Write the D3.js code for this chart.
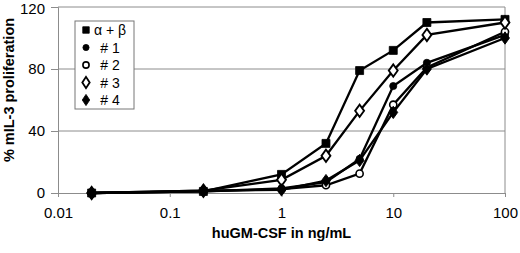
<!DOCTYPE html>
<html>
<head>
<meta charset="utf-8">
<script src="https://cdn.jsdelivr.net/npm/d3@7"></script>
<style>
  body { margin: 0; background: #fff; }
  svg { display: block; }
</style>
</head>
<body>
<svg id="chart" width="520" height="253"></svg>
<script>
// concentrations (ng/mL) and % proliferation
var doses = [0.02, 0.2, 1, 2.5, 5, 10, 20, 100];
var alphaBeta = [0, 1, 12, 32, 79, 92, 110, 112];
var clone1 = [0, 1, 3, 7, 22, 69, 84, 102];
var clone2 = [0, 1, 2.5, 5, 12.5, 57, 81, 104];
var clone3 = [0, 1.5, 8.5, 24, 53, 79, 102, 110];
var clone4 = [0, 1.5, 2, 8, 21, 52, 80, 100];
var xTicks = [0.01, 0.1, 1, 10, 100];
var yTicks = [0, 40, 80, 120];

var series = [
  {name: 'α + β', values: alphaBeta, shape: 'square', fill: '#000'},
  {name: '# 1', values: clone1, shape: 'circle', fill: '#000'},
  {name: '# 2', values: clone2, shape: 'circle', fill: '#fff'},
  {name: '# 3', values: clone3, shape: 'diamond', fill: '#fff'},
  {name: '# 4', values: clone4, shape: 'diamond', fill: '#000'}
];

var margin = {top: 7, right: 15, bottom: 60, left: 58}
  , width = 520 - margin.left - margin.right
  , height = 253 - margin.top - margin.bottom
  , grey = '#8c8c8c';

var svg = d3.select('#chart');
var g = svg.append('g').attr('transform', 'translate(' + margin.left + ',' + margin.top + ')');

var x = d3.scaleLog().domain([0.01, 100]).range([0, width]);
var y = d3.scaleLinear().domain([0, 120]).range([height, 0]);

// grid lines and plot frame
g.append('g')
  .selectAll('line')
  .data(yTicks.slice(1))
  .join('line')
  .attr('x1', 0).attr('x2', width)
  .attr('y1', d => y(d)).attr('y2', d => y(d))
  .attr('stroke', grey).attr('stroke-width', 1);

g.append('line')
  .attr('x1', width).attr('x2', width)
  .attr('y1', 0).attr('y2', height)
  .attr('stroke', grey);

var yAxis = d3.axisLeft(y).tickValues(yTicks).tickSize(7).tickPadding(6).tickFormat(d3.format('d'));
var xAxis = d3.axisBottom(x).tickValues(xTicks).tickSize(4).tickPadding(10)
  .tickFormat(d => d < 1 ? String(d) : d3.format('d')(d));

function styleAxis(sel) {
  sel.select('.domain').attr('stroke', grey);
  sel.selectAll('.tick line').attr('stroke', grey);
  sel.selectAll('.tick text')
    .attr('fill', '#000')
    .style('font', '15px "Liberation Sans", Arial, sans-serif');
}

g.append('g').attr('class', 'y axis').call(yAxis).call(styleAxis);
// keep the top label inside the page
g.selectAll('.y.axis .tick text').filter(d => d === 120).attr('dy', '0.42em');

g.append('g').attr('class', 'x axis')
  .attr('transform', 'translate(0,' + height + ')')
  .call(xAxis).call(styleAxis);

// axis titles
svg.append('text')
  .attr('transform', 'rotate(-90)')
  .attr('x', -90).attr('y', 14)
  .attr('text-anchor', 'middle')
  .style('font', 'bold 14.5px "Liberation Sans", Arial, sans-serif')
  .text('% mIL-3 proliferation');

svg.append('text')
  .attr('x', margin.left + x(1)).attr('y', 238)
  .attr('text-anchor', 'middle')
  .style('font', 'bold 14.5px "Liberation Sans", Arial, sans-serif')
  .text('huGM-CSF in ng/mL');

function symbolFor(shape) {
  if (shape === 'square') return d3.symbol(d3.symbolSquare, 64);
  if (shape === 'circle') return d3.symbol(d3.symbolCircle, 40);
  return d3.symbol(d3.symbolDiamond, 44);
}

var line = d3.line()
  .x((d, i) => x(doses[i]))
  .y(d => y(d));

var groups = g.selectAll('.series')
  .data(series)
  .join('g')
  .attr('class', 'series');

groups.append('path')
  .attr('d', d => line(d.values))
  .attr('fill', 'none')
  .attr('stroke', '#000')
  .attr('stroke-width', 2.3);

groups.each(function (s) {
  d3.select(this).selectAll('path.pt')
    .data(s.values)
    .join('path')
    .attr('class', 'pt')
    .attr('transform', (d, i) => 'translate(' + x(doses[i]) + ',' + y(d) + ')' + (s.shape === 'diamond' ? ' scale(1.25,1)' : ''))
    .attr('d', symbolFor(s.shape))
    .attr('fill', s.fill)
    .attr('stroke', '#000')
    .attr('stroke-width', s.fill === '#fff' ? 1.6 : 0.8);
});

// legend
var legend = svg.append('g').attr('transform', 'translate(75,21)');
legend.append('rect')
  .attr('width', 59).attr('height', 88)
  .attr('fill', '#fff')
  .attr('stroke', '#777').attr('stroke-width', 1);

var items = legend.selectAll('.item')
  .data(series)
  .join('g')
  .attr('class', 'item')
  .attr('transform', (d, i) => 'translate(0,' + (9 + i * 17.5) + ')');

items.append('path')
  .attr('transform', d => 'translate(11,0)' + (d.shape === 'diamond' ? ' scale(1.15,1)' : ''))
  .attr('d', d => d.shape === 'square' ? d3.symbol(d3.symbolSquare, 42)() : d.shape === 'circle' ? d3.symbol(d3.symbolCircle, 30)() : d3.symbol(d3.symbolDiamond, 36)())
  .attr('fill', d => d.fill)
  .attr('stroke', '#000')
  .attr('stroke-width', d => d.fill === '#fff' ? 1.6 : 0.8);

items.append('text')
  .attr('x', 35).attr('y', 5)
  .attr('text-anchor', 'middle')
  .style('font', '14px "Liberation Sans", Arial, sans-serif')
  .text(d => d.name);
</script>
</body>
</html>
